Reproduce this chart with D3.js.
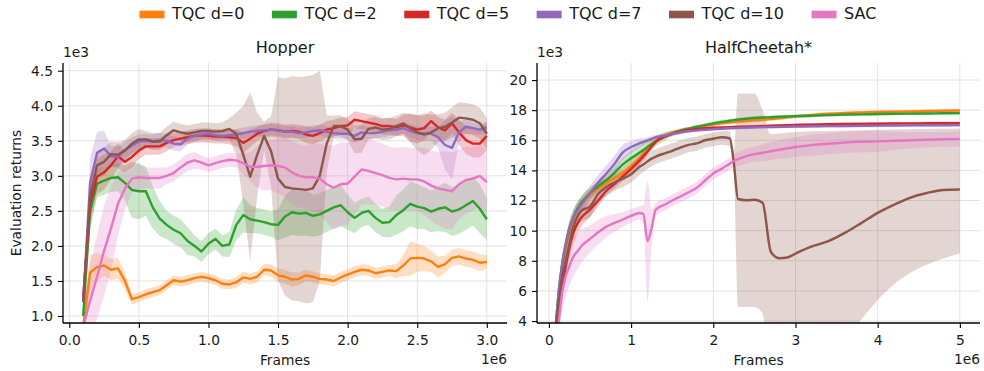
<!DOCTYPE html>
<html>
<head>
<meta charset="utf-8">
<script src="https://cdn.jsdelivr.net/npm/d3@7"></script>
<style>
  body { margin: 0; background: #ffffff; }
  svg { font-family: "DejaVu Sans", sans-serif; display: block; }
</style>
</head>
<body>
<svg id="chart" width="984" height="371"></svg>
<script>
// ---- series metadata ----
const seriesNames  = ["TQC d=0", "TQC d=2", "TQC d=5", "TQC d=7", "TQC d=10", "SAC"];
const seriesColors = ["#ff7f0e", "#2ca02c", "#d62728", "#9467bd", "#8c564b", "#e377c2"];

// ---- Hopper (frames in 1e6, returns in 1e3) ----
const hopperFrames = [0.10,0.15,0.20,0.25,0.30,0.35,0.40,0.45,0.50,0.55,0.60,0.65,0.70,0.75,0.80,0.85,0.90,0.95,1.00,1.05,
  1.10,1.15,1.20,1.25,1.30,1.35,1.40,1.45,1.50,1.55,1.60,1.65,1.70,1.75,1.80,1.85,1.90,1.95,2.00,2.05,
  2.10,2.15,2.20,2.25,2.30,2.35,2.40,2.45,2.50,2.55,2.60,2.65,2.70,2.75,2.80,2.85,2.90,2.95,3.00];

const hopperTqc0 = [0.85,1.62,1.70,1.72,1.66,1.68,1.50,1.24,1.27,1.31,1.34,1.37,1.44,1.51,1.49,1.51,1.54,1.56,1.54,1.51,
  1.46,1.45,1.48,1.55,1.53,1.56,1.66,1.65,1.58,1.56,1.52,1.53,1.58,1.56,1.53,1.52,1.50,1.55,1.59,1.63,
  1.66,1.65,1.61,1.63,1.65,1.64,1.72,1.82,1.83,1.82,1.78,1.70,1.74,1.83,1.85,1.82,1.80,1.76,1.77];
const hopperTqc0Sd = [0.15,0.25,0.20,0.15,0.15,0.15,0.12,0.08,0.07,0.07,0.07,0.07,0.07,0.07,0.07,0.07,0.07,0.07,0.07,0.07,
  0.07,0.07,0.08,0.08,0.08,0.08,0.08,0.09,0.10,0.10,0.10,0.09,0.08,0.08,0.08,0.08,0.08,0.08,0.08,0.08,
  0.08,0.08,0.08,0.08,0.08,0.10,0.15,0.25,0.20,0.18,0.15,0.15,0.12,0.12,0.12,0.12,0.12,0.12,0.10];

const hopperTqc2 = [1.00,2.50,2.89,2.93,2.97,2.98,2.90,2.80,2.78,2.78,2.55,2.39,2.30,2.23,2.18,2.07,2.00,1.92,2.03,2.10,
  2.00,2.02,2.30,2.44,2.38,2.36,2.34,2.31,2.30,2.42,2.48,2.46,2.47,2.43,2.45,2.50,2.55,2.58,2.48,2.40,
  2.47,2.50,2.40,2.33,2.34,2.44,2.51,2.60,2.56,2.54,2.49,2.53,2.55,2.49,2.52,2.58,2.64,2.53,2.38];
const hopperTqc2Sd = [0.10,0.25,0.20,0.20,0.20,0.20,0.25,0.40,0.40,0.35,0.30,0.25,0.20,0.20,0.20,0.20,0.15,0.15,0.15,0.15,
  0.15,0.18,0.22,0.25,0.20,0.18,0.18,0.18,0.22,0.30,0.32,0.32,0.32,0.30,0.30,0.30,0.30,0.30,0.25,0.22,
  0.20,0.20,0.20,0.20,0.22,0.28,0.30,0.32,0.32,0.30,0.30,0.32,0.35,0.35,0.35,0.35,0.35,0.35,0.30];

const hopperTqc5 = [1.25,2.60,2.99,3.05,3.15,3.28,3.20,3.27,3.36,3.42,3.42,3.42,3.47,3.51,3.53,3.55,3.57,3.58,3.57,3.56,
  3.56,3.55,3.54,3.47,3.53,3.60,3.64,3.66,3.65,3.63,3.64,3.63,3.59,3.57,3.61,3.66,3.68,3.71,3.72,3.80,
  3.78,3.76,3.74,3.71,3.71,3.69,3.72,3.69,3.66,3.68,3.78,3.69,3.65,3.75,3.62,3.51,3.46,3.46,3.57];
const hopperTqc5Sd = [0.20,0.30,0.25,0.25,0.20,0.18,0.15,0.15,0.12,0.12,0.12,0.12,0.12,0.10,0.10,0.10,0.10,0.10,0.10,0.10,
  0.10,0.10,0.12,0.15,0.12,0.10,0.10,0.10,0.10,0.10,0.10,0.10,0.12,0.12,0.12,0.12,0.12,0.12,0.12,0.12,
  0.12,0.12,0.12,0.12,0.12,0.12,0.15,0.20,0.20,0.18,0.15,0.15,0.15,0.15,0.18,0.20,0.20,0.20,0.20];

const hopperTqc7 = [1.20,2.90,3.33,3.39,3.28,3.27,3.37,3.43,3.49,3.50,3.49,3.51,3.50,3.46,3.45,3.53,3.57,3.59,3.60,3.58,
  3.57,3.58,3.59,3.61,3.63,3.64,3.65,3.66,3.65,3.63,3.63,3.61,3.62,3.64,3.65,3.63,3.61,3.60,3.60,3.57,
  3.62,3.61,3.61,3.63,3.65,3.66,3.68,3.64,3.61,3.60,3.60,3.55,3.44,3.40,3.62,3.70,3.68,3.66,3.69];
const hopperTqc7Sd = [0.20,0.35,0.30,0.25,0.15,0.15,0.12,0.12,0.10,0.10,0.10,0.10,0.10,0.10,0.10,0.08,0.08,0.08,0.08,0.08,
  0.08,0.08,0.08,0.08,0.08,0.08,0.08,0.08,0.08,0.08,0.08,0.08,0.08,0.08,0.08,0.08,0.08,0.08,0.08,0.10,
  0.10,0.08,0.08,0.08,0.08,0.08,0.08,0.10,0.10,0.10,0.10,0.15,0.35,0.45,0.15,0.10,0.08,0.08,0.08];

const hopperTqc10 = [1.20,2.70,3.15,3.20,3.31,3.30,3.36,3.46,3.52,3.52,3.49,3.49,3.58,3.65,3.62,3.60,3.62,3.64,3.64,3.63,
  3.64,3.67,3.60,3.30,2.99,3.30,3.57,3.35,2.96,2.84,2.82,2.81,2.80,2.82,3.00,3.46,3.71,3.71,3.66,3.52,
  3.53,3.67,3.69,3.66,3.67,3.71,3.75,3.68,3.62,3.59,3.62,3.68,3.70,3.76,3.83,3.82,3.80,3.75,3.60];
const hopperTqc10Sd = [0.20,0.30,0.20,0.20,0.18,0.18,0.15,0.15,0.15,0.12,0.12,0.12,0.12,0.12,0.12,0.12,0.12,0.12,0.12,0.12,
  0.12,0.15,0.30,0.70,1.20,0.60,0.20,0.50,1.45,1.55,1.60,1.60,1.62,1.62,1.50,0.40,0.15,0.15,0.15,0.20,
  0.20,0.15,0.15,0.15,0.15,0.15,0.15,0.20,0.25,0.30,0.25,0.20,0.20,0.22,0.22,0.22,0.22,0.22,0.22];

const hopperSac = [0.85,1.22,1.56,1.93,2.25,2.60,2.82,2.96,2.98,2.97,2.97,2.97,3.00,3.04,3.12,3.19,3.22,3.19,3.15,3.18,
  3.21,3.23,3.22,3.18,3.13,3.13,3.14,3.15,3.14,3.12,3.05,3.00,2.98,2.98,2.96,2.88,2.83,2.88,2.89,2.99,
  3.09,3.07,3.04,3.01,2.97,2.95,2.96,2.95,2.95,2.92,2.86,2.82,2.80,2.78,2.88,2.94,2.96,3.00,2.91];
const hopperSacSd = [0.30,0.50,0.60,0.65,0.60,0.45,0.30,0.20,0.18,0.15,0.15,0.15,0.12,0.12,0.12,0.12,0.12,0.10,0.10,0.10,
  0.10,0.10,0.10,0.15,0.20,0.30,0.35,0.35,0.40,0.42,0.45,0.45,0.45,0.48,0.50,0.55,0.60,0.60,0.58,0.55,
  0.50,0.48,0.45,0.45,0.45,0.45,0.45,0.45,0.45,0.48,0.50,0.52,0.55,0.55,0.50,0.48,0.45,0.45,0.45];

// ---- HalfCheetah* (frames in 1e6, returns in 1e3) ----
const cheetahFrames = [0.08,0.12,0.16,0.20,0.25,0.30,0.35,0.40,0.50,0.60,0.70,0.80,0.90,1.00,1.10,1.15,1.20,1.25,1.30,1.40,
  1.50,1.60,1.70,1.80,1.90,2.00,2.10,2.20,2.25,2.30,2.40,2.50,2.60,2.70,2.80,2.90,3.00,3.20,3.40,3.60,
  3.80,4.00,4.20,4.40,4.60,4.80,5.00];

const cheetahTqc0 = [3.4,5.5,7.0,8.4,9.8,10.8,11.4,11.8,12.4,12.8,13.15,13.5,13.85,14.3,14.8,15.1,15.4,15.7,15.95,16.28,
  16.5,16.65,16.78,16.88,16.97,17.05,17.12,17.18,17.21,17.24,17.28,17.32,17.36,17.41,17.46,17.52,17.58,17.68,17.76,17.81,
  17.85,17.88,17.90,17.92,17.94,17.96,17.98];
const cheetahTqc0Sd = [0.3,0.4,0.5,0.5,0.5,0.5,0.5,0.5,0.45,0.4,0.35,0.35,0.35,0.35,0.35,0.35,0.3,0.3,0.25,0.2,
  0.15,0.15,0.12,0.12,0.12,0.12,0.12,0.12,0.12,0.12,0.12,0.12,0.12,0.12,0.12,0.12,0.12,0.1,0.1,0.1,
  0.1,0.1,0.1,0.1,0.1,0.1,0.1];

const cheetahTqc2 = [3.4,6.0,7.7,8.9,10.1,10.95,11.5,11.9,12.5,12.95,13.35,13.85,14.4,14.8,15.17,15.36,15.56,15.76,15.93,16.24,
  16.45,16.62,16.76,16.9,17.01,17.12,17.22,17.3,17.34,17.37,17.43,17.48,17.51,17.53,17.56,17.58,17.6,17.63,17.67,17.7,
  17.72,17.74,17.76,17.77,17.78,17.79,17.8];
const cheetahTqc2Sd = [0.3,0.4,0.5,0.5,0.5,0.5,0.45,0.4,0.35,0.35,0.35,0.4,0.45,0.5,0.5,0.5,0.45,0.4,0.35,0.3,
  0.2,0.15,0.12,0.12,0.12,0.12,0.12,0.12,0.12,0.12,0.12,0.12,0.12,0.12,0.12,0.12,0.12,0.1,0.1,0.1,
  0.1,0.1,0.1,0.1,0.1,0.1,0.1];

const cheetahTqc5 = [3.3,4.8,6.3,7.5,8.9,9.9,10.5,10.9,11.4,12.0,12.65,13.1,13.6,14.1,14.65,14.95,15.25,15.6,15.9,16.22,
  16.42,16.57,16.68,16.75,16.8,16.83,16.85,16.87,16.88,16.89,16.9,16.92,16.94,16.96,16.98,17.0,17.02,17.04,17.06,17.08,
  17.09,17.1,17.11,17.12,17.13,17.14,17.14];
const cheetahTqc5Sd = [0.3,0.5,0.7,0.8,0.8,0.8,0.7,0.6,0.5,0.4,0.3,0.3,0.3,0.3,0.3,0.3,0.25,0.2,0.15,0.12,
  0.1,0.1,0.1,0.1,0.1,0.1,0.1,0.1,0.1,0.1,0.1,0.1,0.1,0.1,0.1,0.1,0.1,0.1,0.1,0.1,
  0.1,0.1,0.1,0.1,0.1,0.1,0.1];

const cheetahTqc7 = [3.4,6.0,7.8,9.0,10.2,10.9,11.4,11.8,12.5,13.2,13.8,14.45,15.2,15.55,15.8,15.9,16.0,16.1,16.2,16.3,
  16.42,16.52,16.6,16.66,16.7,16.74,16.77,16.8,16.81,16.82,16.84,16.86,16.87,16.88,16.89,16.9,16.91,16.93,16.94,16.95,
  16.96,16.97,16.98,16.99,17.0,17.0,17.01];
const cheetahTqc7Sd = [0.3,0.4,0.5,0.5,0.5,0.5,0.5,0.5,0.5,0.5,0.55,0.55,0.5,0.4,0.3,0.25,0.2,0.2,0.15,0.12,
  0.1,0.1,0.1,0.1,0.1,0.1,0.1,0.1,0.1,0.1,0.1,0.1,0.1,0.1,0.1,0.1,0.1,0.1,0.1,0.1,
  0.1,0.1,0.1,0.1,0.1,0.1,0.1];

const cheetahTqc10 = [3.4,5.2,6.9,7.9,9.1,10.3,10.95,11.34,11.6,12.45,12.9,13.2,13.45,13.75,14.22,14.4,14.6,14.78,14.92,15.12,
  15.3,15.52,15.7,15.8,16.0,16.1,16.2,16.12,14.5,12.1,12.02,12.05,11.85,8.6,8.17,8.22,8.48,8.95,9.3,9.85,
  10.5,11.18,11.72,12.2,12.5,12.7,12.73];
const cheetahTqc10Low = [3.0,4.7,6.3,7.2,8.4,9.6,10.3,10.6,10.9,11.8,12.3,12.65,12.9,13.2,13.7,13.9,14.1,14.28,14.42,14.62,
  14.8,15.0,15.2,15.3,15.5,15.6,15.7,15.6,13.9,4.93,4.93,4.93,4.5,-0.5,-0.5,-0.5,-1.0,0.0,1.4,2.8,
  4.1,5.4,6.45,7.2,7.75,8.15,8.5];
const cheetahTqc10High = [3.8,5.7,7.5,8.6,9.8,11.0,11.6,12.0,12.3,13.1,13.5,13.75,14.0,14.3,14.7,14.9,15.1,15.28,15.42,15.62,
  15.8,16.0,16.15,16.25,16.4,16.5,16.6,16.6,15.2,19.1,19.1,19.1,18.0,16.4,16.45,16.5,16.55,16.6,16.62,16.65,
  16.67,16.7,16.72,16.74,16.75,16.76,16.78];

const cheetahSac = [2.5,4.0,5.8,6.9,7.65,8.3,8.65,9.0,9.45,9.9,10.27,10.52,10.74,10.98,11.17,11.1,9.3,10.2,11.4,11.7,
  12.0,12.27,12.55,12.85,13.33,13.8,14.1,14.45,14.62,14.75,14.95,15.08,15.17,15.27,15.37,15.46,15.55,15.68,15.77,15.85,
  15.9,15.93,15.97,16.0,16.04,16.07,16.09];
const cheetahSacSd = [0.5,1.0,1.2,1.3,1.3,1.3,1.2,1.1,0.9,0.8,0.7,0.6,0.5,0.45,0.45,0.6,4.0,1.2,0.45,0.4,
  0.4,0.4,0.4,0.4,0.4,0.4,0.4,0.4,0.45,0.45,0.5,0.5,0.55,0.6,0.6,0.65,0.65,0.7,0.7,0.7,
  0.7,0.7,0.6,0.55,0.5,0.5,0.5];

// ---- tick values ----
const hopperXTicks  = [0, 0.5, 1.0, 1.5, 2.0, 2.5, 3.0];
const hopperYTicks  = [1.0, 1.5, 2.0, 2.5, 3.0, 3.5, 4.0, 4.5];
const cheetahXTicks = [0, 1, 2, 3, 4, 5];
const cheetahYTicks = [4, 6, 8, 10, 12, 14, 16, 18, 20];

// mean ± spread bands
function band(mean, sd) {
  return { mean: mean, lo: mean.map((m, i) => m - sd[i]), hi: mean.map((m, i) => m + sd[i]) };
}

const panels = [
  {
    id: "hopper", title: "Hopper", left: 63, right: 507,
    xDomain: [-0.045, 3.145], yDomain: [0.9, 4.61],
    xTicks: hopperXTicks, yTicks: hopperYTicks, xFmt: d3.format(".1f"), yFmt: d3.format(".1f"),
    frames: hopperFrames, curve: d3.curveLinear,
    series: [band(hopperTqc0, hopperTqc0Sd), band(hopperTqc2, hopperTqc2Sd), band(hopperTqc5, hopperTqc5Sd),
             band(hopperTqc7, hopperTqc7Sd), band(hopperTqc10, hopperTqc10Sd), band(hopperSac, hopperSacSd)],
    yLabel: "Evaluation returns"
  },
  {
    id: "cheetah", title: "HalfCheetah*", left: 537, right: 980,
    xDomain: [-0.145, 5.245], yDomain: [3.87, 21.13],
    xTicks: cheetahXTicks, yTicks: cheetahYTicks, xFmt: d3.format("d"), yFmt: d3.format("d"),
    frames: cheetahFrames, curve: d3.curveMonotoneX,
    series: [band(cheetahTqc0, cheetahTqc0Sd), band(cheetahTqc2, cheetahTqc2Sd), band(cheetahTqc5, cheetahTqc5Sd),
             band(cheetahTqc7, cheetahTqc7Sd),
             { mean: cheetahTqc10, lo: cheetahTqc10Low, hi: cheetahTqc10High },
             band(cheetahSac, cheetahSacSd)],
    yLabel: null
  }
];

const plotTop = 63, plotBottom = 323;
const textColor = "#1a1a1a";
const tickFont = 13.8, titleFont = 16, legendFont = 16;

const svg = d3.select("#chart");
const defs = svg.append("defs");

panels.forEach(p => {
  const x = d3.scaleLinear().domain(p.xDomain).range([p.left, p.right]);
  const y = d3.scaleLinear().domain(p.yDomain).range([plotBottom, plotTop]);
  const g = svg.append("g").attr("class", "panel-" + p.id);

  defs.append("clipPath").attr("id", "clip-" + p.id)
    .append("rect").attr("x", p.left).attr("y", plotTop)
    .attr("width", p.right - p.left).attr("height", plotBottom - plotTop);

  // grid
  const grid = g.append("g").attr("class", "grid");
  grid.selectAll("line.gx").data(p.xTicks).join("line").attr("class", "gx")
    .attr("x1", d => x(d)).attr("x2", d => x(d)).attr("y1", plotTop).attr("y2", plotBottom)
    .attr("stroke", "#e2e2e2").attr("stroke-width", 1);
  grid.selectAll("line.gy").data(p.yTicks).join("line").attr("class", "gy")
    .attr("x1", p.left).attr("x2", p.right).attr("y1", d => y(d)).attr("y2", d => y(d))
    .attr("stroke", "#e2e2e2").attr("stroke-width", 1);

  const plot = g.append("g").attr("clip-path", "url(#clip-" + p.id + ")");
  const idx = d3.range(p.frames.length);

  const area = s => d3.area().curve(p.curve)
    .x(i => x(p.frames[i])).y0(i => y(s.lo[i])).y1(i => y(s.hi[i]));
  const line = s => d3.line().curve(p.curve)
    .x(i => x(p.frames[i])).y(i => y(s.mean[i]));

  // shaded spread, all below the mean lines
  p.series.forEach((s, k) => {
    plot.append("path").attr("d", area(s)(idx))
      .attr("fill", seriesColors[k]).attr("fill-opacity", 0.25).attr("stroke", "none");
  });
  p.series.forEach((s, k) => {
    plot.append("path").attr("d", line(s)(idx))
      .attr("fill", "none").attr("stroke", seriesColors[k]).attr("stroke-width", 2.4)
      .attr("stroke-linejoin", "round").attr("stroke-linecap", "butt");
  });

  // axes
  const xAxis = d3.axisBottom(x).tickValues(p.xTicks).tickFormat(p.xFmt).tickSize(5).tickSizeOuter(0);
  const yAxis = d3.axisLeft(y).tickValues(p.yTicks).tickFormat(p.yFmt).tickSize(5).tickSizeOuter(0).tickPadding(5);

  const gx = g.append("g").attr("transform", `translate(0,${plotBottom})`).call(xAxis);
  gx.select(".domain").attr("d", `M${p.left},0H${p.right}`);
  gx.selectAll("text").attr("y", 22).attr("dy", null);

  const gy = g.append("g").attr("transform", `translate(${p.left},0)`).call(yAxis);
  gy.select(".domain").attr("d", `M0,${plotBottom}V${plotTop}`);

  [gx, gy].forEach(a => {
    a.attr("font-family", "DejaVu Sans, sans-serif").attr("font-size", tickFont);
    a.select(".domain").attr("stroke", "#000").attr("stroke-width", 1.3);
    a.selectAll(".tick line").attr("stroke", "#000").attr("stroke-width", 1.1);
    a.selectAll("text").attr("fill", textColor);
  });

  // labels
  g.append("text").attr("x", (p.left + p.right) / 2).attr("y", 53)
    .attr("text-anchor", "middle").attr("font-size", titleFont).attr("fill", textColor).text(p.title);
  g.append("text").attr("x", (p.left + p.right) / 2).attr("y", 365)
    .attr("text-anchor", "middle").attr("font-size", tickFont).attr("fill", textColor).text("Frames");
  g.append("text").attr("x", p.left).attr("y", 57)
    .attr("font-size", tickFont).attr("fill", textColor).text("1e3");
  g.append("text").attr("x", p.right).attr("y", 364).attr("text-anchor", "end")
    .attr("font-size", tickFont).attr("fill", textColor).text("1e6");
  if (p.yLabel) {
    g.append("text").attr("transform", `translate(20.5,${(plotTop + plotBottom) / 2}) rotate(-90)`)
      .attr("text-anchor", "middle").attr("font-size", tickFont).attr("fill", textColor).text(p.yLabel);
  }
});

// legend across the top
const legend = svg.append("g").attr("class", "legend");
let lx = 139.5;
seriesNames.forEach((name, k) => {
  legend.append("rect").attr("x", lx).attr("y", 10.7).attr("width", 25).attr("height", 7.6)
    .attr("fill", seriesColors[k]);
  const t = legend.append("text").attr("x", lx + 32.5).attr("y", 19.4)
    .attr("font-size", legendFont).attr("fill", textColor).text(name);
  lx += 32.5 + t.node().getComputedTextLength() + 27.5;
});
</script>
</body>
</html>
